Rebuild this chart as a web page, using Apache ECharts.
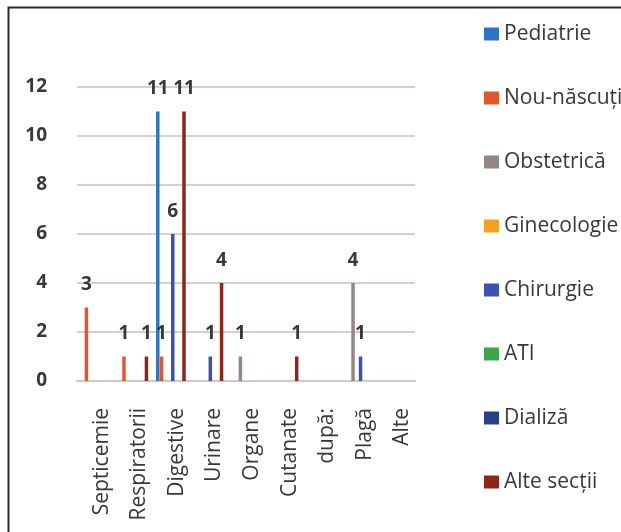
<!DOCTYPE html>
<html>
<head>
<meta charset="utf-8">
<script src="https://cdn.jsdelivr.net/npm/echarts@6/dist/echarts.min.js"></script>
<style>
  html, body { margin: 0; padding: 0; background: #ffffff; }
  #chart { width: 621px; height: 532px; }
</style>
</head>
<body>
<div id="chart"></div>
<script>
// Infection sites (categories) and cases per hospital ward (series)
const categories = ['Septicemie', 'Respiratorii', 'Digestive', 'Urinare', 'Organe', 'Cutanate', 'după:', 'Plagă', 'Alte'];
const seriesNames = ['Pediatrie', 'Nou-născuți', 'Obstetrică', 'Ginecologie', 'Chirurgie', 'ATI', 'Dializă', 'Alte secții'];

const pediatrie   = [0, 0, 11, 0, 0, 0, 0, 0, 0];
const nouNascuti  = [3, 1, 1, 0, 0, 0, 0, 0, 0];
const obstetrica  = [0, 0, 0, 0, 1, 0, 0, 4, 0];
const ginecologie = [0, 0, 0, 0, 0, 0, 0, 0, 0];
const chirurgie   = [0, 0, 6, 1, 0, 0, 0, 1, 0];
const ati         = [0, 0, 0, 0, 0, 0, 0, 0, 0];
const dializa     = [0, 0, 0, 0, 0, 0, 0, 0, 0];
const alteSectii  = [0, 1, 11, 4, 0, 1, 0, 0, 0];

const yTicks = { min: 0, max: 12, interval: 2 };

const seriesData = [pediatrie, nouNascuti, obstetrica, ginecologie, chirurgie, ati, dializa, alteSectii];
const colors = ['#2e74c2', '#e0582a', '#958686', '#f2a31d', '#3a52b0', '#3aa84a', '#24428e', '#8e2618'];

const FONT = "'Open Sans', sans-serif";
const TEXT = '#383838';

const chart = echarts.init(document.getElementById('chart'), null, { renderer: 'canvas' });

chart.setOption({
  backgroundColor: '#ffffff',
  animation: false,
  color: colors,
  textStyle: { fontFamily: FONT },
  graphic: [{
    type: 'rect',
    left: 6, top: 5,
    shape: { width: 700, height: 600 },
    style: { fill: 'none', stroke: '#2b2b2b', lineWidth: 2 },
    silent: true
  }],
  legend: {
    orient: 'vertical',
    left: 479,
    top: 17,
    itemWidth: 15,
    itemHeight: 13,
    itemGap: 40,
    icon: 'rect',
    data: seriesNames,
    textStyle: { fontFamily: FONT, fontSize: 21, color: TEXT, lineHeight: 24 }
  },
  grid: { left: 77, right: 206, top: 87, bottom: 151, containLabel: false },
  xAxis: {
    type: 'category',
    data: categories,
    axisLine: { show: true, lineStyle: { color: '#cfc8c6', width: 2 } },
    axisTick: { show: false },
    axisLabel: {
      interval: 0,
      rotate: 90,
      margin: 27,
      fontFamily: FONT,
      fontSize: 21,
      color: TEXT,
      verticalAlign: 'top',
      lineHeight: 12
    }
  },
  yAxis: {
    type: 'value',
    min: yTicks.min,
    max: yTicks.max,
    interval: yTicks.interval,
    axisLine: { show: false },
    axisTick: { show: false },
    axisLabel: { margin: 30, fontFamily: FONT, fontSize: 19, fontWeight: 'bold', color: TEXT },
    splitLine: { lineStyle: { color: '#d6cfcd', width: 2 } }
  },
  series: seriesNames.map((name, i) => ({
    name: name,
    type: 'bar',
    data: seriesData[i],
    barWidth: 3.5,
    barGap: '7%',
    itemStyle: { color: colors[i] },
    label: {
      show: true,
      position: 'top',
      distance: 13,
      fontFamily: FONT,
      fontSize: 19,
      fontWeight: 'bold',
      color: TEXT,
      formatter: p => (p.value ? String(p.value) : '')
    }
  }))
});
</script>
</body>
</html>
